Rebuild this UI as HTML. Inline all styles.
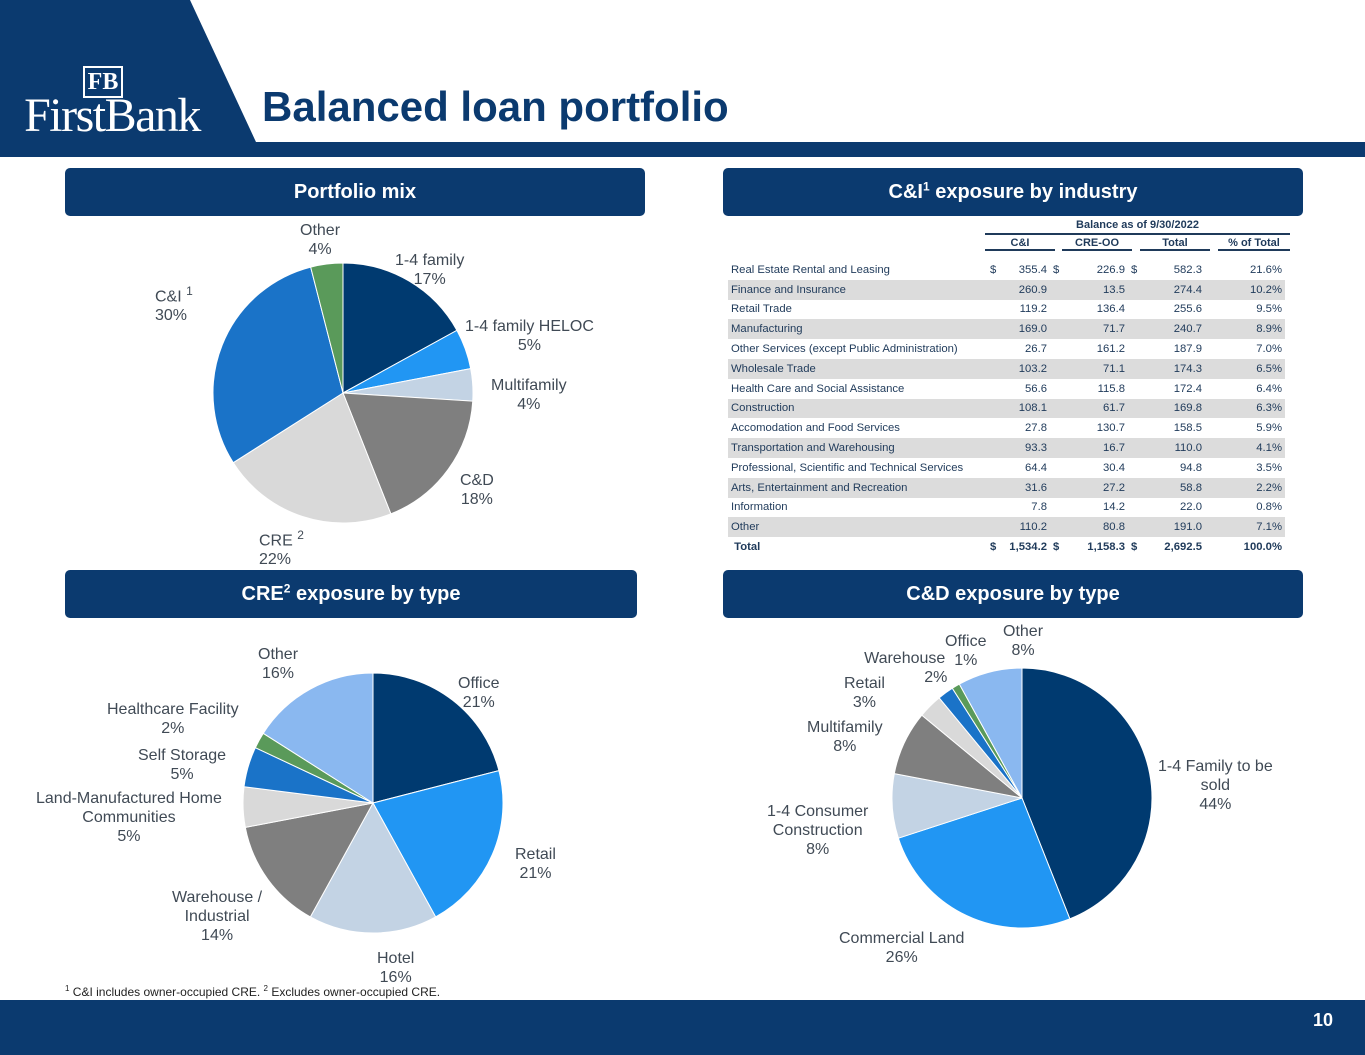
<!DOCTYPE html>
<html><head><meta charset="utf-8"><style>
body{margin:0;width:1365px;height:1055px;position:relative;overflow:hidden;background:#fff;font-family:"Liberation Sans",sans-serif}
.hdr{position:absolute;background:#0b3a6f;color:#fff;font-weight:bold;font-size:20px;text-align:center;line-height:48px;height:48px;border-radius:5px}
.lbl{position:absolute;font-size:16px;color:#404a55;text-align:center;line-height:19px;white-space:nowrap}
table{position:absolute;left:728px;top:217px;border-collapse:collapse;font-size:11.3px;color:#1f3a5a;table-layout:fixed;width:557px}
td{height:19.8px;padding:0 3px;white-space:nowrap;overflow:visible}
tr.s td{background:#dcdcdc}
td.r{text-align:right}
</style></head><body>
<svg width="1365" height="160" style="position:absolute;left:0;top:0">
<rect x="0" y="0" width="1365" height="157" fill="#0b3a6f"/>
<polygon points="190,0 1365,0 1365,142 256,142" fill="#fff"/>
</svg>
<div style="position:absolute;left:14px;top:66px;width:196px;color:#fff;font-family:'Liberation Serif',serif;text-align:center">
<div style="display:inline-block;border:2px solid #fff;padding:0 3px;font-size:24px;line-height:28px;font-weight:bold;margin-left:-18px">FB</div>
<div style="font-size:48px;line-height:40px;margin-top:-2px;letter-spacing:-1.5px">FirstBank</div></div>
<div style="position:absolute;left:262px;top:83px;font-size:42px;font-weight:bold;color:#0b3a6f">Balanced loan portfolio</div>

<div class="hdr" style="left:65px;top:168px;width:580px">Portfolio mix</div>
<div class="hdr" style="left:723px;top:168px;width:580px">C&amp;I<sup style="font-size:12px;line-height:0">1</sup> exposure by industry</div>
<div class="hdr" style="left:65px;top:570px;width:572px">CRE<sup style="font-size:12px;line-height:0">2</sup> exposure by type</div>
<div class="hdr" style="left:723px;top:570px;width:580px">C&amp;D exposure by type</div>

<svg id="pies" width="1365" height="1055" style="position:absolute;left:0;top:0"></svg>

<div class="lbl" style="left:300px;top:221px">Other<br>4%</div>
<div class="lbl" style="left:395px;top:251px">1-4 family<br>17%</div>
<div class="lbl" style="left:465px;top:317px">1-4 family HELOC<br>5%</div>
<div class="lbl" style="left:491px;top:376px">Multifamily<br>4%</div>
<div class="lbl" style="left:460px;top:471px">C&amp;D<br>18%</div>
<div class="lbl" style="left:259px;top:526px;text-align:left">CRE <sup style="font-size:12px">2</sup><br>22%</div>
<div class="lbl" style="left:155px;top:282px;text-align:left">C&amp;I <sup style="font-size:12px">1</sup><br>30%</div>

<div class="lbl" style="left:258px;top:645px">Other<br>16%</div>
<div class="lbl" style="left:458px;top:674px">Office<br>21%</div>
<div class="lbl" style="left:515px;top:845px">Retail<br>21%</div>
<div class="lbl" style="left:377px;top:949px">Hotel<br>16%</div>
<div class="lbl" style="left:172px;top:888px">Warehouse /<br>Industrial<br>14%</div>
<div class="lbl" style="left:36px;top:789px">Land-Manufactured Home<br>Communities<br>5%</div>
<div class="lbl" style="left:138px;top:746px">Self Storage<br>5%</div>
<div class="lbl" style="left:107px;top:700px">Healthcare Facility<br>2%</div>

<div class="lbl" style="left:1003px;top:622px">Other<br>8%</div>
<div class="lbl" style="left:945px;top:632px">Office<br>1%</div>
<div class="lbl" style="left:862px;top:649px">Warehouse<br>&nbsp;&nbsp;&nbsp;&nbsp;&nbsp;&nbsp;&nbsp;&nbsp;&nbsp;&nbsp;&nbsp;&nbsp;&nbsp;&nbsp;2%</div>
<div class="lbl" style="left:844px;top:674px">Retail<br>3%</div>
<div class="lbl" style="left:807px;top:718px">Multifamily<br>8%</div>
<div class="lbl" style="left:767px;top:802px">1-4 Consumer<br>Construction<br>8%</div>
<div class="lbl" style="left:839px;top:929px">Commercial Land<br>26%</div>
<div class="lbl" style="left:1158px;top:757px">1-4 Family to be<br>sold<br>44%</div>

<div style="position:absolute;left:985px;top:219px;width:305px;text-align:center;font-size:11px;font-weight:bold;color:#1f3a5a;border-bottom:2px solid #1f3a5a;padding-bottom:2px">Balance as of 9/30/2022</div>
<div style="position:absolute;top:237px;font-size:11px;font-weight:bold;color:#1f3a5a">
<span style="position:absolute;left:985px;width:70px;text-align:center;border-bottom:2px solid #1f3a5a">C&amp;I</span>
<span style="position:absolute;left:1062px;width:70px;text-align:center;border-bottom:2px solid #1f3a5a">CRE-OO</span>
<span style="position:absolute;left:1140px;width:70px;text-align:center;border-bottom:2px solid #1f3a5a">Total</span>
<span style="position:absolute;left:1218px;width:72px;text-align:center;border-bottom:2px solid #1f3a5a">% of Total</span></div>
<table style="top:260px">
<colgroup><col style="width:259px"><col style="width:14px"><col style="width:49px"><col style="width:14px"><col style="width:64px"><col style="width:14px"><col style="width:63px"><col style="width:80px"></colgroup>
<tr><td>Real Estate Rental and Leasing</td><td>$</td><td class="r">355.4</td><td>$</td><td class="r">226.9</td><td>$</td><td class="r">582.3</td><td class="r">21.6%</td></tr>
<tr class="s"><td>Finance and Insurance</td><td></td><td class="r">260.9</td><td></td><td class="r">13.5</td><td></td><td class="r">274.4</td><td class="r">10.2%</td></tr>
<tr><td>Retail Trade</td><td></td><td class="r">119.2</td><td></td><td class="r">136.4</td><td></td><td class="r">255.6</td><td class="r">9.5%</td></tr>
<tr class="s"><td>Manufacturing</td><td></td><td class="r">169.0</td><td></td><td class="r">71.7</td><td></td><td class="r">240.7</td><td class="r">8.9%</td></tr>
<tr><td>Other Services (except Public Administration)</td><td></td><td class="r">26.7</td><td></td><td class="r">161.2</td><td></td><td class="r">187.9</td><td class="r">7.0%</td></tr>
<tr class="s"><td>Wholesale Trade</td><td></td><td class="r">103.2</td><td></td><td class="r">71.1</td><td></td><td class="r">174.3</td><td class="r">6.5%</td></tr>
<tr><td>Health Care and Social Assistance</td><td></td><td class="r">56.6</td><td></td><td class="r">115.8</td><td></td><td class="r">172.4</td><td class="r">6.4%</td></tr>
<tr class="s"><td>Construction</td><td></td><td class="r">108.1</td><td></td><td class="r">61.7</td><td></td><td class="r">169.8</td><td class="r">6.3%</td></tr>
<tr><td>Accomodation and Food Services</td><td></td><td class="r">27.8</td><td></td><td class="r">130.7</td><td></td><td class="r">158.5</td><td class="r">5.9%</td></tr>
<tr class="s"><td>Transportation and Warehousing</td><td></td><td class="r">93.3</td><td></td><td class="r">16.7</td><td></td><td class="r">110.0</td><td class="r">4.1%</td></tr>
<tr><td>Professional, Scientific and Technical Services</td><td></td><td class="r">64.4</td><td></td><td class="r">30.4</td><td></td><td class="r">94.8</td><td class="r">3.5%</td></tr>
<tr class="s"><td>Arts, Entertainment and Recreation</td><td></td><td class="r">31.6</td><td></td><td class="r">27.2</td><td></td><td class="r">58.8</td><td class="r">2.2%</td></tr>
<tr><td>Information</td><td></td><td class="r">7.8</td><td></td><td class="r">14.2</td><td></td><td class="r">22.0</td><td class="r">0.8%</td></tr>
<tr class="s"><td>Other</td><td></td><td class="r">110.2</td><td></td><td class="r">80.8</td><td></td><td class="r">191.0</td><td class="r">7.1%</td></tr>
<tr style="font-weight:bold"><td>&nbsp;Total</td><td>$</td><td class="r">1,534.2</td><td>$</td><td class="r">1,158.3</td><td>$</td><td class="r">2,692.5</td><td class="r">100.0%</td></tr>
</table>

<div style="position:absolute;left:65px;top:984px;font-size:12px;color:#222"><sup style="font-size:8px">1</sup> C&amp;I includes owner-occupied CRE. <sup style="font-size:8px">2</sup> Excludes owner-occupied CRE.</div>
<div style="position:absolute;left:0;top:1000px;width:1365px;height:55px;background:#0b3a6f"></div>
<div style="position:absolute;right:32px;top:1010px;color:#fff;font-weight:bold;font-size:18px">10</div>

<script>
const mixCategories=["1-4 family","1-4 family HELOC","Multifamily","C&D","CRE","C&I","Other"];
const mixValues=[17,5,4,18,22,30,4];
const creCategories=["Office","Retail","Hotel","Warehouse / Industrial","Land-Manufactured Home Communities","Self Storage","Healthcare Facility","Other"];
const creValues=[21,21,16,14,5,5,2,16];
const cdCategories=["1-4 Family to be sold","Commercial Land","1-4 Consumer Construction","Multifamily","Retail","Warehouse","Office","Other"];
const cdValues=[44,26,8,8,3,2,1,8];
const mixColors=["#003a70","#2196f3","#c3d3e4","#7f7f7f","#d9d9d9","#1a73c8","#5a9a5a"];
const typeColors=["#003a70","#2196f3","#c3d3e4","#7f7f7f","#d9d9d9","#1a73c8","#5a9a5a","#8ab8f0"];
const svg=document.getElementById('pies');
function pie(name,cats,vals,colors,cx,cy,r){
  const tot=vals.reduce((a,b)=>a+b,0);let a0=0;
  vals.forEach((v,i)=>{
    const a1=a0+v/tot*2*Math.PI;
    const x0=cx+r*Math.sin(a0),y0=cy-r*Math.cos(a0),x1=cx+r*Math.sin(a1),y1=cy-r*Math.cos(a1);
    const p=document.createElementNS('http://www.w3.org/2000/svg','path');
    p.setAttribute('d',`M${cx},${cy}L${x0},${y0}A${r},${r} 0 ${a1-a0>Math.PI?1:0} 1 ${x1},${y1}Z`);
    p.setAttribute('fill',colors[i]);p.setAttribute('stroke','#fff');p.setAttribute('stroke-width','1');
    
    
    svg.appendChild(p);a0=a1;
  });
}
pie('portfolio-mix',mixCategories,mixValues,mixColors,343,393,130);
pie('cre',creCategories,creValues,typeColors,373,803,130);
pie('cd',cdCategories,cdValues,typeColors,1022,798,130);
</script>
</body></html>
